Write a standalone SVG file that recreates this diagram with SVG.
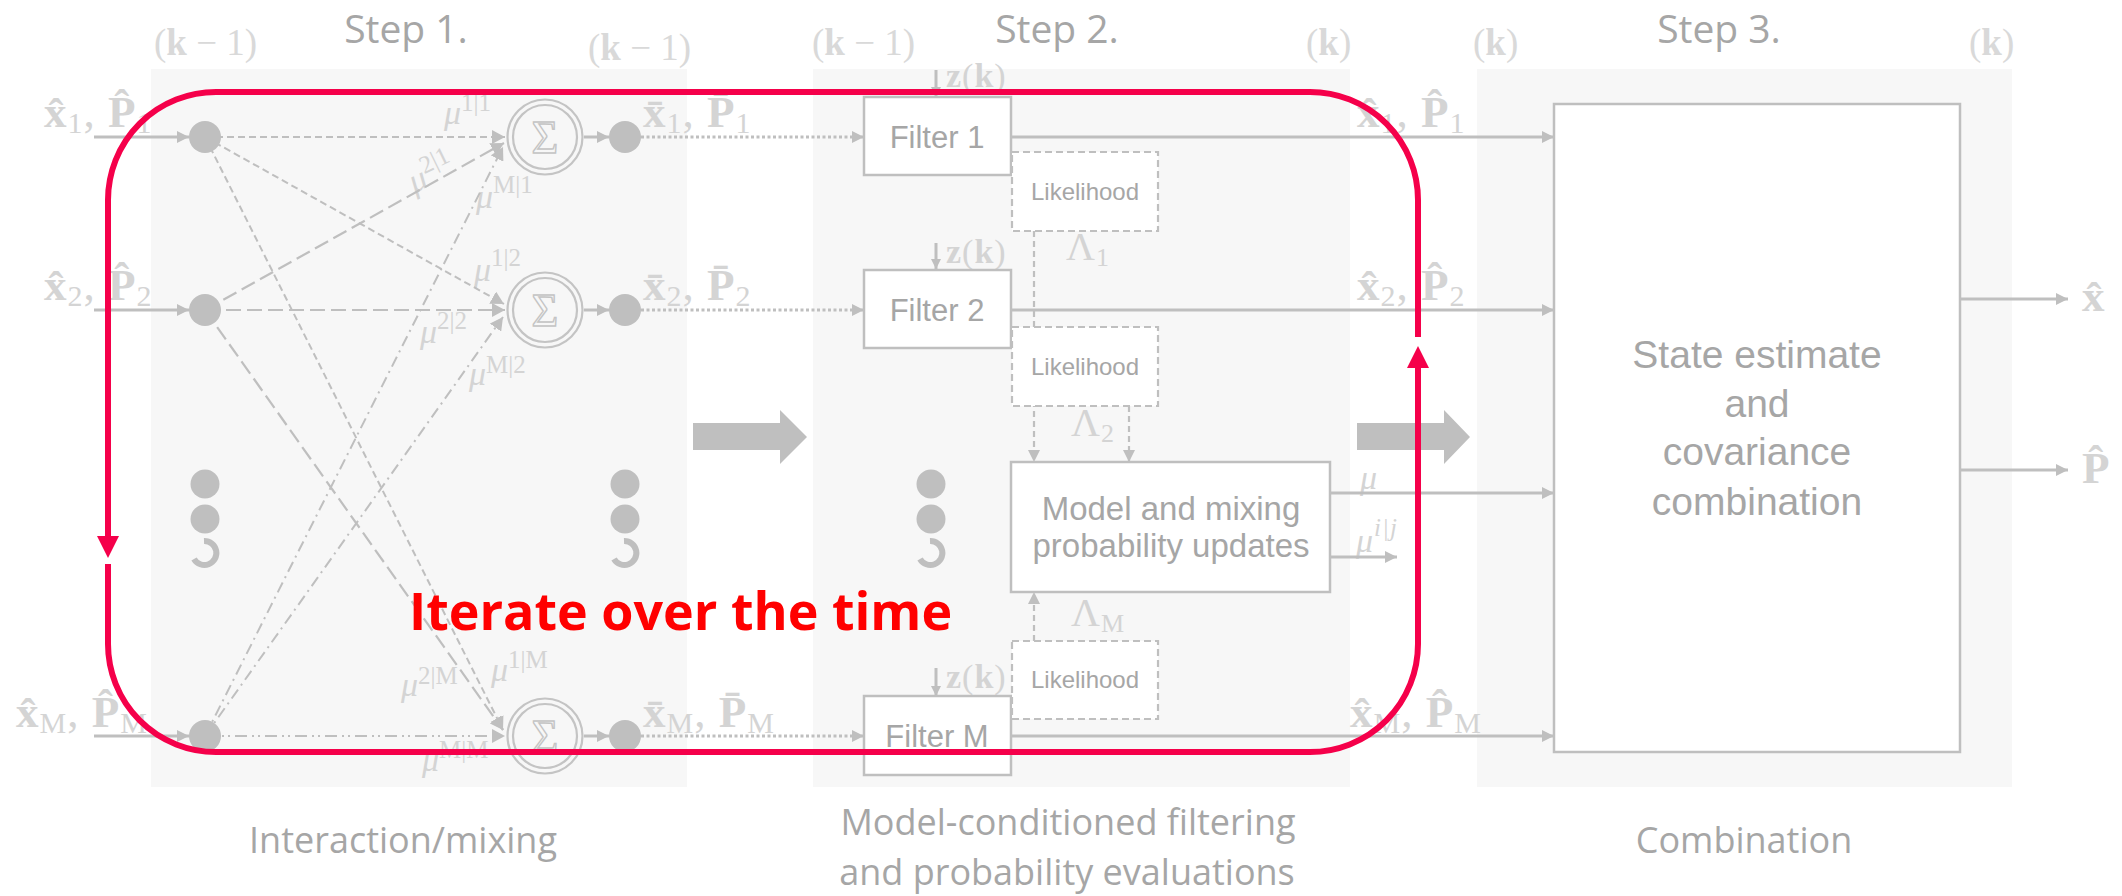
<svg xmlns="http://www.w3.org/2000/svg" width="2122" height="896" viewBox="0 0 2122 896">
<defs>
<style>
.panel{fill:#F7F7F7}
.head{font-family:"Open Sans","Liberation Sans",sans-serif;font-size:39px;fill:#A6A6A6;text-anchor:middle}
.cap{font-family:"Open Sans","Liberation Sans",sans-serif;font-size:36px;fill:#A6A6A6;text-anchor:middle}
.m{font-family:"Liberation Serif","DejaVu Serif",serif;fill:#D4D4D4}
.k{font-family:"Liberation Serif","DejaVu Serif",serif;fill:#D9D9D9;font-size:37px}
.mb{font-weight:bold}
.mi{font-style:italic}
.t{font-family:"Liberation Sans",Arial,sans-serif;fill:#A6A6A6;text-anchor:middle}
.box{fill:#FFFFFF;stroke:#BFBFBF;stroke-width:2.5}
.lik{fill:#FFFFFF;stroke:#BFBFBF;stroke-width:2.2;stroke-dasharray:7 4}
.node{fill:#BFBFBF}
.sum{fill:none;stroke:#C4C4C4;stroke-width:2.2}
.sig{font-family:"Liberation Serif","DejaVu Serif",serif;font-size:46px;fill:none;stroke:#C4C4C4;stroke-width:1.4;text-anchor:middle}
.w{stroke:#BFBFBF;fill:none;stroke-width:3}
.d1{stroke:#BFBFBF;fill:none;stroke-width:2;stroke-dasharray:7 4}
.d2{stroke:#BFBFBF;fill:none;stroke-width:2.2;stroke-dasharray:15 6}
.d3{stroke:#BFBFBF;fill:none;stroke-width:2;stroke-dasharray:11 5 2 5}
.d4{stroke:#BFBFBF;fill:none;stroke-width:2;stroke-dasharray:12 5 2 4 2 5}
.dot{stroke:#BFBFBF;fill:none;stroke-width:3.2;stroke-dasharray:3 2.5}
.ld{stroke:#BFBFBF;fill:none;stroke-width:2.2;stroke-dasharray:6 4}
.ring{fill:none;stroke:#BFBFBF;stroke-width:6}
.big{fill:#BFBFBF}
.loop{fill:none;stroke:#F5004A;stroke-width:6}
.loophead{fill:#F5004A}
.iter{font-family:"Open Sans","Liberation Sans",sans-serif;font-weight:bold;font-size:52px;fill:#FF0000}
</style>
<marker id="ah" viewBox="0 0 12 12" refX="12" refY="6" markerWidth="13" markerHeight="12" markerUnits="userSpaceOnUse" orient="auto">
<path d="M0,0 L12,6 L0,12 z" fill="#BFBFBF"/>
</marker>
<marker id="ahs" viewBox="0 0 13 14" refX="13" refY="7" markerWidth="13" markerHeight="14" markerUnits="userSpaceOnUse" orient="auto">
<path d="M0,0 L13,7 L0,14 z" fill="#BFBFBF"/>
</marker>
<marker id="ahz" viewBox="0 0 10 10" refX="10" refY="5" markerWidth="10" markerHeight="10" markerUnits="userSpaceOnUse" orient="auto">
<path d="M0,0 L10,5 L0,10 z" fill="#BFBFBF"/>
</marker>
</defs>

<rect width="2122" height="896" fill="#FFFFFF"/>

<!-- stage panels -->
<g id="panels">
<rect class="panel" x="151" y="69" width="536" height="718"/>
<rect class="panel" x="813" y="69" width="537" height="718"/>
<rect class="panel" x="1477" y="69" width="535" height="718"/>
</g>

<!-- headings and captions -->
<g id="headings">
<text class="head" x="406" y="43">Step 1.</text>
<text class="head" x="1057" y="43">Step 2.</text>
<text class="head" x="1719" y="43">Step 3.</text>
<text class="cap" x="403" y="853">Interaction/mixing</text>
<text class="cap" x="1068" y="835">Model-conditioned filtering</text>
<text class="cap" x="1067" y="885">and probability evaluations</text>
<text class="cap" x="1744" y="853">Combination</text>
</g>

<!-- time indices -->
<g id="time-labels">
<text class="k" x="154" y="55">(<tspan class="mb">k</tspan> − 1)</text>
<text class="k" x="588" y="60">(<tspan class="mb">k</tspan> − 1)</text>
<text class="k" x="812" y="55">(<tspan class="mb">k</tspan> − 1)</text>
<text class="k" x="1306" y="55">(<tspan class="mb">k</tspan>)</text>
<text class="k" x="1473" y="55">(<tspan class="mb">k</tspan>)</text>
<text class="k" x="1969" y="55">(<tspan class="mb">k</tspan>)</text>
</g>

<!-- signal labels -->
<g id="signal-labels" class="m" font-size="45" letter-spacing="1">
<text x="44" y="127"><tspan class="mb">x̂</tspan><tspan font-size="30" dy="6">1</tspan><tspan dy="-6">, </tspan><tspan class="mb">P̂</tspan><tspan font-size="30" dy="6">1</tspan></text>
<text x="44" y="300"><tspan class="mb">x̂</tspan><tspan font-size="30" dy="6">2</tspan><tspan dy="-6">, </tspan><tspan class="mb">P̂</tspan><tspan font-size="30" dy="6">2</tspan></text>
<text x="16" y="727"><tspan class="mb">x̂</tspan><tspan font-size="30" dy="6">M</tspan><tspan dy="-6">, </tspan><tspan class="mb">P̂</tspan><tspan font-size="30" dy="6">M</tspan></text>
<text x="643" y="127"><tspan class="mb">x̄</tspan><tspan font-size="30" dy="6">1</tspan><tspan dy="-6">, </tspan><tspan class="mb">P̄</tspan><tspan font-size="30" dy="6">1</tspan></text>
<text x="643" y="300"><tspan class="mb">x̄</tspan><tspan font-size="30" dy="6">2</tspan><tspan dy="-6">, </tspan><tspan class="mb">P̄</tspan><tspan font-size="30" dy="6">2</tspan></text>
<text x="643" y="727"><tspan class="mb">x̄</tspan><tspan font-size="30" dy="6">M</tspan><tspan dy="-6">, </tspan><tspan class="mb">P̄</tspan><tspan font-size="30" dy="6">M</tspan></text>
<text x="1357" y="127"><tspan class="mb">x̂</tspan><tspan font-size="30" dy="6">1</tspan><tspan dy="-6">, </tspan><tspan class="mb">P̂</tspan><tspan font-size="30" dy="6">1</tspan></text>
<text x="1357" y="300"><tspan class="mb">x̂</tspan><tspan font-size="30" dy="6">2</tspan><tspan dy="-6">, </tspan><tspan class="mb">P̂</tspan><tspan font-size="30" dy="6">2</tspan></text>
<text x="1350" y="727"><tspan class="mb">x̂</tspan><tspan font-size="30" dy="6">M</tspan><tspan dy="-6">, </tspan><tspan class="mb">P̂</tspan><tspan font-size="30" dy="6">M</tspan></text>
<text x="2082" y="311" class="mb">x̂</text>
<text x="2082" y="483" class="mb">P̂</text>
<text x="946" y="87" font-size="34"><tspan class="mb">z</tspan>(<tspan class="mb">k</tspan>)</text>
<text x="946" y="263" font-size="34"><tspan class="mb">z</tspan>(<tspan class="mb">k</tspan>)</text>
<text x="946" y="688" font-size="34"><tspan class="mb">z</tspan>(<tspan class="mb">k</tspan>)</text>
<text x="1066" y="260" font-size="40">Λ<tspan font-size="26" dy="6">1</tspan></text>
<text x="1071" y="436" font-size="40">Λ<tspan font-size="26" dy="6">2</tspan></text>
<text x="1071" y="626" font-size="40">Λ<tspan font-size="26" dy="6">M</tspan></text>
<text x="1360" y="489" font-size="34" class="mi">μ</text>
<text x="1356" y="552" font-size="34"><tspan class="mi">μ</tspan><tspan font-size="25" dy="-16" class="mi">i|j</tspan></text>
</g>

<!-- mixing probability labels -->
<g id="mixing-labels" class="m" font-size="34">
<text x="444" y="124"><tspan class="mi">μ</tspan><tspan font-size="25" dy="-13">1|1</tspan></text>
<text x="405" y="184" transform="rotate(-26 430 168)"><tspan class="mi">μ</tspan><tspan font-size="25" dy="-13">2|1</tspan></text>
<text x="476" y="208"><tspan class="mi">μ</tspan><tspan font-size="25" dy="-15">M|1</tspan></text>
<text x="474" y="281"><tspan class="mi">μ</tspan><tspan font-size="25" dy="-15">1|2</tspan></text>
<text x="420" y="343"><tspan class="mi">μ</tspan><tspan font-size="25" dy="-14">2|2</tspan></text>
<text x="469" y="385"><tspan class="mi">μ</tspan><tspan font-size="25" dy="-12">M|2</tspan></text>
<text x="401" y="696"><tspan class="mi">μ</tspan><tspan font-size="25" dy="-12">2|M</tspan></text>
<text x="491" y="681"><tspan class="mi">μ</tspan><tspan font-size="25" dy="-13">1|M</tspan></text>
<text x="422" y="771"><tspan class="mi">μ</tspan><tspan font-size="25" dy="-13">M|M</tspan></text>
</g>

<!-- connectors -->
<g id="connectors">
<!-- inputs into the mixing stage -->
<line class="w" x1="94" y1="137" x2="189" y2="137" marker-end="url(#ah)"/>
<line class="w" x1="94" y1="310" x2="189" y2="310" marker-end="url(#ah)"/>
<line class="w" x1="94" y1="736" x2="189" y2="736" marker-end="url(#ah)"/>
<!-- from model 1 -->
<line class="d1" x1="205" y1="137" x2="505" y2="137" marker-end="url(#ahs)"/>
<line class="d1" x1="205" y1="137" x2="504" y2="304" marker-end="url(#ahs)"/>
<line class="d1" x1="205" y1="137" x2="503" y2="730" marker-end="url(#ahs)"/>
<!-- from model 2 -->
<line class="d2" x1="205" y1="310" x2="504" y2="143" marker-end="url(#ahs)"/>
<line class="d2" x1="205" y1="310" x2="505" y2="310" marker-end="url(#ahs)"/>
<line class="d2" x1="205" y1="310" x2="503" y2="730" marker-end="url(#ahs)"/>
<!-- from model M -->
<line class="d3" x1="205" y1="736" x2="503" y2="147" marker-end="url(#ahs)"/>
<line class="d3" x1="205" y1="736" x2="503" y2="317" marker-end="url(#ahs)"/>
<line class="d4" x1="205" y1="736" x2="505" y2="736" marker-end="url(#ahs)"/>
<!-- summation outputs -->
<line class="w" x1="584" y1="137" x2="609" y2="137" marker-end="url(#ah)"/>
<line class="w" x1="584" y1="310" x2="609" y2="310" marker-end="url(#ah)"/>
<line class="w" x1="584" y1="736" x2="609" y2="736" marker-end="url(#ah)"/>
<!-- mixed estimates into filters -->
<line class="dot" x1="641" y1="137" x2="864" y2="137" marker-end="url(#ah)"/>
<line class="dot" x1="641" y1="310" x2="864" y2="310" marker-end="url(#ah)"/>
<line class="dot" x1="641" y1="736" x2="864" y2="736" marker-end="url(#ah)"/>
<!-- measurements -->
<line class="w" stroke-width="2" x1="936" y1="70" x2="936" y2="97" marker-end="url(#ahz)"/>
<line class="w" stroke-width="2" x1="936" y1="243" x2="936" y2="269" marker-end="url(#ahz)"/>
<line class="w" stroke-width="2" x1="936" y1="668" x2="936" y2="696" marker-end="url(#ahz)"/>
<!-- filter outputs into the combination -->
<line class="w" x1="1011" y1="137" x2="1554" y2="137" marker-end="url(#ah)"/>
<line class="w" x1="1011" y1="310" x2="1554" y2="310" marker-end="url(#ah)"/>
<line class="w" x1="1011" y1="736" x2="1554" y2="736" marker-end="url(#ah)"/>
<!-- likelihoods into the probability update -->
<line class="ld" x1="1034" y1="231" x2="1034" y2="462" marker-end="url(#ah)"/>
<line class="ld" x1="1129" y1="406" x2="1129" y2="462" marker-end="url(#ah)"/>
<line class="ld" x1="1034" y1="641" x2="1034" y2="592" marker-end="url(#ah)"/>
<!-- probability outputs -->
<line class="w" x1="1330" y1="493" x2="1554" y2="493" marker-end="url(#ah)"/>
<line class="w" x1="1330" y1="557" x2="1397" y2="557" marker-end="url(#ah)"/>
<!-- final outputs -->
<line class="w" x1="1960" y1="299" x2="2068" y2="299" marker-end="url(#ah)"/>
<line class="w" x1="1960" y1="470" x2="2068" y2="470" marker-end="url(#ah)"/>
<!-- stage transitions -->
<path class="big" d="M693,423 H780 V410 L807,437 L780,464 V450 H693 Z"/>
<path class="big" d="M1357,423 H1444 V410 L1470,437 L1444,464 V450 H1357 Z"/>
</g>

<!-- mixing stage nodes -->
<g id="in-1"><circle class="node" cx="205" cy="137" r="16"/></g>
<g id="in-2"><circle class="node" cx="205" cy="310" r="16"/></g>
<g id="in-M"><circle class="node" cx="205" cy="736" r="16"/></g>
<g id="sum-1"><circle class="sum" cx="545" cy="137" r="37.5"/><circle class="sum" cx="545" cy="137" r="32"/><text class="sig" x="545" y="153">Σ</text></g>
<g id="sum-2"><circle class="sum" cx="545" cy="310" r="37.5"/><circle class="sum" cx="545" cy="310" r="32"/><text class="sig" x="545" y="326">Σ</text></g>
<g id="sum-M"><circle class="sum" cx="545" cy="736" r="37.5"/><circle class="sum" cx="545" cy="736" r="32"/><text class="sig" x="545" y="752">Σ</text></g>
<g id="mix-1"><circle class="node" cx="625" cy="137" r="16"/></g>
<g id="mix-2"><circle class="node" cx="625" cy="310" r="16"/></g>
<g id="mix-M"><circle class="node" cx="625" cy="736" r="16"/></g>

<!-- ellipsis markers -->
<g id="ellipsis-in">
<circle class="node" cx="205" cy="484" r="14.5"/><circle class="node" cx="205" cy="519" r="14.5"/>
<path class="ring" d="M204,541 A12,12 0 1 1 194,559"/>
</g>
<g id="ellipsis-mix">
<circle class="node" cx="625" cy="484" r="14.5"/><circle class="node" cx="625" cy="519" r="14.5"/>
<path class="ring" d="M624,541 A12,12 0 1 1 614,559"/>
</g>
<g id="ellipsis-filter">
<circle class="node" cx="931" cy="484" r="14.5"/><circle class="node" cx="931" cy="519" r="14.5"/>
<path class="ring" d="M930,541 A12,12 0 1 1 920,559"/>
</g>

<!-- filtering stage -->
<g id="filter-1"><rect class="box" x="864" y="97" width="147" height="78"/><text class="t" x="937" y="148" font-size="31">Filter 1</text></g>
<g id="filter-2"><rect class="box" x="864" y="270" width="147" height="78"/><text class="t" x="937" y="321" font-size="31">Filter 2</text></g>
<g id="filter-M"><rect class="box" x="864" y="696" width="147" height="79"/><text class="t" x="937" y="747" font-size="31">Filter M</text></g>
<g id="likelihood-1"><rect class="lik" x="1012" y="152" width="146" height="79"/><text class="t" x="1085" y="200" font-size="24">Likelihood</text></g>
<g id="likelihood-2"><rect class="lik" x="1012" y="327" width="146" height="79"/><text class="t" x="1085" y="375" font-size="24">Likelihood</text></g>
<g id="likelihood-M"><rect class="lik" x="1012" y="641" width="146" height="78"/><text class="t" x="1085" y="688" font-size="24">Likelihood</text></g>
<g id="prob-update"><rect class="box" x="1011" y="462" width="319" height="130"/>
<text class="t" x="1171" y="520" font-size="33">Model and mixing</text>
<text class="t" x="1171" y="557" font-size="33">probability updates</text></g>

<!-- combination stage -->
<g id="combination"><rect class="box" x="1554" y="104" width="406" height="648"/>
<text class="t" x="1757" y="368" font-size="39">State estimate</text>
<text class="t" x="1757" y="417" font-size="39">and</text>
<text class="t" x="1757" y="465" font-size="39">covariance</text>
<text class="t" x="1757" y="515" font-size="39">combination</text></g>

<!-- recursion loop -->
<g id="loop">
<path class="loop" d="M1418,337 V200 A108,108 0 0 0 1310,92 H216 A108,108 0 0 0 108,200 V540"/>
<path class="loop" d="M108,564 V644 A108,108 0 0 0 216,752 H1310 A108,108 0 0 0 1418,644 V364"/>
<path class="loophead" d="M97,536 L119,536 L108,558 Z"/>
<path class="loophead" d="M1407,368 L1429,368 L1418,346 Z"/>
<text class="iter" x="409" y="630">Iterate over the time</text>
</g>
</svg>
